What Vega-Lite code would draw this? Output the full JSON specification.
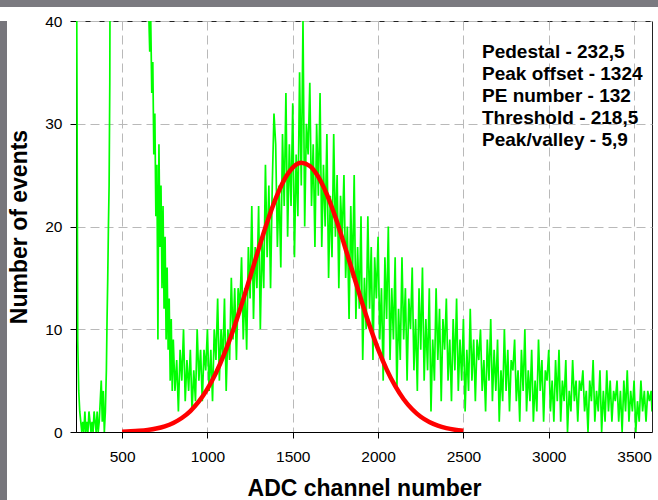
{
  "$schema": "https://vega.github.io/schema/vega-lite/v6.json",
  "padding": 0,
  "background": "white",
  "spacing": 6,
  "config": {
    "font": "Liberation Sans",
    "view": {"stroke": "#222222", "strokeWidth": 1},
    "axis": {
      "domainColor": "#000000",
      "tickColor": "#000000",
      "labelColor": "#000000",
      "titleColor": "#000000",
      "labelFont": "Liberation Sans",
      "titleFont": "Liberation Sans",
      "labelFontSize": 15.5,
      "titleFontSize": 23,
      "titleFontWeight": "bold",
      "gridColor": "#b9b9b9",
      "gridDash": [9, 5],
      "gridWidth": 1,
      "tickSize": 6
    }
  },
  "datasets": {
    "none": [],
    "spec": [
      {"x":230,"y":60},{"x":236,"y":33},{"x":240,"y":9},{"x":246,"y":4},{"x":252,"y":2},{"x":258,"y":1},{"x":264,"y":0},{"x":270,"y":1},{"x":276,"y":0},{"x":282,"y":2},{"x":288,"y":0},{"x":294,"y":1},{"x":300,"y":0},{"x":306,"y":2},{"x":312,"y":1},{"x":318,"y":0},{"x":324,"y":1},{"x":330,"y":0},{"x":336,"y":2},{"x":342,"y":1},{"x":348,"y":0},{"x":354,"y":2},{"x":360,"y":0},{"x":366,"y":1},{"x":372,"y":3},{"x":378,"y":5},{"x":384,"y":1},{"x":390,"y":4},{"x":396,"y":0},{"x":402,"y":2},{"x":408,"y":6},{"x":412,"y":11},{"x":416,"y":15},{"x":420,"y":20},{"x":424,"y":24},{"x":428,"y":34},{"x":432,"y":60},{"x":540,"y":60},{"x":650,"y":60},
      {"x":656,"y":41},{"x":662,"y":37},{"x":668,"y":40},{"x":674,"y":33},{"x":680,"y":36},{"x":686,"y":27},{"x":692,"y":31},{"x":698,"y":21},{"x":704,"y":26},{"x":710,"y":9},{"x":716,"y":28},{"x":722,"y":18},{"x":728,"y":24},{"x":734,"y":14},{"x":740,"y":22},{"x":746,"y":12},{"x":752,"y":19},{"x":758,"y":9},{"x":764,"y":16},{"x":770,"y":8},{"x":776,"y":13},{"x":782,"y":5},{"x":788,"y":11},{"x":794,"y":4},
      {"x":800,"y":9},{"x":810,"y":4},{"x":820,"y":7},{"x":830,"y":2},{"x":840,"y":8},{"x":850,"y":5},{"x":860,"y":10},{"x":870,"y":3},{"x":880,"y":7},{"x":890,"y":4},
      {"x":900,"y":8},{"x":910,"y":2},{"x":920,"y":6},{"x":930,"y":3},{"x":940,"y":10},{"x":950,"y":5},{"x":960,"y":8},{"x":970,"y":3},{"x":980,"y":8},{"x":990,"y":6},
      {"x":1000,"y":10},{"x":1010,"y":4},{"x":1020,"y":8},{"x":1030,"y":3},{"x":1040,"y":10},{"x":1050,"y":7},{"x":1060,"y":13},{"x":1070,"y":5},{"x":1080,"y":10},{"x":1090,"y":7},
      {"x":1100,"y":13},{"x":1110,"y":4},{"x":1120,"y":10},{"x":1130,"y":7},{"x":1140,"y":15},{"x":1150,"y":9},{"x":1160,"y":14},{"x":1170,"y":7},{"x":1180,"y":14},{"x":1190,"y":12},
      {"x":1200,"y":17},{"x":1210,"y":9},{"x":1220,"y":14},{"x":1230,"y":8},{"x":1240,"y":18},{"x":1250,"y":13},{"x":1260,"y":22},{"x":1270,"y":11},{"x":1280,"y":18},{"x":1290,"y":14},
      {"x":1300,"y":22},{"x":1310,"y":10},{"x":1320,"y":19},{"x":1330,"y":14},{"x":1340,"y":26},{"x":1350,"y":17},{"x":1360,"y":24},{"x":1370,"y":14},{"x":1380,"y":24},{"x":1390,"y":31},
      {"x":1400,"y":28},{"x":1410,"y":18},{"x":1420,"y":24},{"x":1430,"y":16},{"x":1440,"y":29},{"x":1450,"y":22},{"x":1460,"y":33},{"x":1470,"y":19},{"x":1480,"y":28},{"x":1490,"y":22},
      {"x":1500,"y":32},{"x":1510,"y":17},{"x":1520,"y":27},{"x":1530,"y":21},{"x":1540,"y":35},{"x":1550,"y":24},{"x":1560,"y":40},{"x":1570,"y":20},{"x":1580,"y":30},{"x":1590,"y":27},
      {"x":1600,"y":34},{"x":1610,"y":22},{"x":1620,"y":28},{"x":1630,"y":18},{"x":1640,"y":30},{"x":1650,"y":23},{"x":1660,"y":33},{"x":1670,"y":18},{"x":1680,"y":26},{"x":1690,"y":20},
      {"x":1700,"y":29},{"x":1710,"y":15},{"x":1720,"y":23},{"x":1730,"y":17},{"x":1740,"y":29},{"x":1750,"y":19},{"x":1760,"y":25},{"x":1770,"y":14},{"x":1780,"y":23},{"x":1790,"y":19},
      {"x":1800,"y":25},{"x":1810,"y":15},{"x":1820,"y":20},{"x":1830,"y":11},{"x":1840,"y":22},{"x":1850,"y":15},{"x":1860,"y":25},{"x":1870,"y":11},{"x":1880,"y":18},{"x":1890,"y":12},
      {"x":1900,"y":21},{"x":1910,"y":7},{"x":1920,"y":15},{"x":1930,"y":10},{"x":1940,"y":21},{"x":1950,"y":12},{"x":1960,"y":18},{"x":1970,"y":7},{"x":1980,"y":17},{"x":1990,"y":13},
      {"x":2000,"y":19},{"x":2010,"y":9},{"x":2020,"y":14},{"x":2030,"y":5},{"x":2040,"y":17},{"x":2050,"y":11},{"x":2060,"y":20},{"x":2070,"y":7},{"x":2080,"y":14},{"x":2090,"y":9},
      {"x":2100,"y":17},{"x":2110,"y":4},{"x":2120,"y":12},{"x":2130,"y":7},{"x":2140,"y":17},{"x":2150,"y":9},{"x":2160,"y":14},{"x":2170,"y":5},{"x":2180,"y":13},{"x":2190,"y":10},
      {"x":2200,"y":16},{"x":2210,"y":6},{"x":2220,"y":11},{"x":2230,"y":4},{"x":2240,"y":14},{"x":2250,"y":8},{"x":2260,"y":16},{"x":2270,"y":5},{"x":2280,"y":11},{"x":2290,"y":6},
      {"x":2300,"y":14},{"x":2310,"y":2},{"x":2320,"y":9},{"x":2330,"y":5},{"x":2340,"y":14},{"x":2350,"y":7},{"x":2360,"y":12},{"x":2370,"y":3},{"x":2380,"y":11},{"x":2390,"y":8},
      {"x":2400,"y":13},{"x":2410,"y":5},{"x":2420,"y":9},{"x":2430,"y":3},{"x":2440,"y":11},{"x":2450,"y":6},{"x":2460,"y":13},{"x":2470,"y":4},{"x":2480,"y":9},{"x":2490,"y":5},
      {"x":2500,"y":11},{"x":2510,"y":2},{"x":2520,"y":8},{"x":2530,"y":4},{"x":2540,"y":12},{"x":2550,"y":5},{"x":2560,"y":9},{"x":2570,"y":3},{"x":2580,"y":9},{"x":2590,"y":7},
      {"x":2600,"y":10},{"x":2610,"y":4},{"x":2620,"y":7},{"x":2630,"y":2},{"x":2640,"y":9},{"x":2650,"y":5},{"x":2660,"y":11},{"x":2670,"y":3},{"x":2680,"y":8},{"x":2690,"y":4},
      {"x":2700,"y":9},{"x":2710,"y":1},{"x":2720,"y":6},{"x":2730,"y":3},{"x":2740,"y":10},{"x":2750,"y":4},{"x":2760,"y":8},{"x":2770,"y":2},{"x":2780,"y":7},{"x":2790,"y":6},
      {"x":2800,"y":9},{"x":2810,"y":3},{"x":2820,"y":6},{"x":2830,"y":1},{"x":2840,"y":8},{"x":2850,"y":4},{"x":2860,"y":10},{"x":2870,"y":2},{"x":2880,"y":6},{"x":2890,"y":3},
      {"x":2900,"y":8},{"x":2910,"y":1},{"x":2920,"y":5},{"x":2930,"y":2},{"x":2940,"y":9},{"x":2950,"y":4},{"x":2960,"y":7},{"x":2970,"y":1},{"x":2980,"y":6},{"x":2990,"y":5},
      {"x":3000,"y":8},{"x":3010,"y":2},{"x":3020,"y":5},{"x":3030,"y":1},{"x":3040,"y":7},{"x":3050,"y":3},{"x":3060,"y":8},{"x":3070,"y":1},{"x":3080,"y":5},{"x":3090,"y":3},
      {"x":3100,"y":7},{"x":3110,"y":0},{"x":3120,"y":4},{"x":3130,"y":2},{"x":3140,"y":7},{"x":3150,"y":3},{"x":3160,"y":5},{"x":3170,"y":1},{"x":3180,"y":5},{"x":3190,"y":4},
      {"x":3200,"y":6},{"x":3210,"y":2},{"x":3220,"y":4},{"x":3230,"y":0},{"x":3240,"y":5},{"x":3250,"y":3},{"x":3260,"y":7},{"x":3270,"y":1},{"x":3280,"y":4},{"x":3290,"y":2},
      {"x":3300,"y":6},{"x":3310,"y":0},{"x":3320,"y":4},{"x":3330,"y":1},{"x":3340,"y":6},{"x":3350,"y":2},{"x":3360,"y":5},{"x":3370,"y":1},{"x":3380,"y":4},{"x":3390,"y":3},
      {"x":3400,"y":5},{"x":3410,"y":1},{"x":3420,"y":4},{"x":3430,"y":0},{"x":3440,"y":5},{"x":3450,"y":2},{"x":3460,"y":6},{"x":3470,"y":1},{"x":3480,"y":4},{"x":3490,"y":2},
      {"x":3500,"y":5},{"x":3510,"y":0},{"x":3520,"y":3},{"x":3530,"y":1},{"x":3540,"y":5},{"x":3550,"y":2},{"x":3560,"y":4},{"x":3570,"y":1},{"x":3580,"y":4},{"x":3590,"y":3},{"x":3600,"y":4},{"x":3605,"y":2}
    ],
    "fit": [
      {"x":500,"y":0.035},{"x":550,"y":0.065},{"x":600,"y":0.116},{"x":650,"y":0.2},{"x":700,"y":0.34},{"x":750,"y":0.556},{"x":800,"y":0.884},{"x":850,"y":1.365},{"x":900,"y":2.04},{"x":950,"y":2.97},
      {"x":1000,"y":4.2},{"x":1050,"y":5.75},{"x":1100,"y":7.65},{"x":1150,"y":9.88},{"x":1200,"y":12.38},{"x":1250,"y":15.07},{"x":1300,"y":17.8},{"x":1350,"y":20.41},{"x":1400,"y":22.71},{"x":1450,"y":24.54},
      {"x":1500,"y":25.73},{"x":1550,"y":26.2},{"x":1600,"y":25.89},{"x":1650,"y":24.83},{"x":1700,"y":23.12},{"x":1750,"y":20.9},{"x":1800,"y":18.34},{"x":1850,"y":15.62},{"x":1900,"y":12.91},{"x":1950,"y":10.36},
      {"x":2000,"y":8.07},{"x":2050,"y":6.1},{"x":2100,"y":4.48},{"x":2150,"y":3.19},{"x":2200,"y":2.21},{"x":2250,"y":1.48},{"x":2300,"y":0.97},{"x":2350,"y":0.61},{"x":2400,"y":0.375},{"x":2450,"y":0.224},{"x":2500,"y":0.13}
    ],
    "notes": [
      {"label": "Pedestal - 232,5\nPeak offset - 1324\nPE number - 132\nThreshold - 218,5\nPeak/valley - 5,9"}
    ]
  },
  "vconcat": [
    {
      "width": 658,
      "height": 7,
      "view": {"fill": "#7b7a80", "stroke": null},
      "data": {"name": "none"},
      "mark": {"type": "rule"},
      "encoding": {}
    },
    {
      "spacing": 1,
      "hconcat": [
        {
          "width": 7,
          "height": 479,
          "view": {"fill": "#77767c", "stroke": null},
          "data": {"name": "none"},
          "mark": {"type": "rule"},
          "encoding": {}
        },
        {
          "width": 576,
          "height": 411,
          "layer": [
            {
              "data": {"name": "spec"},
              "mark": {"type": "line", "color": "#00ff00", "strokeWidth": 1.7, "interpolate": "linear", "clip": true},
              "encoding": {
                "x": {
                  "field": "x", "type": "quantitative",
                  "scale": {"domain": [230, 3605], "nice": false, "zero": false},
                  "axis": {"values": [500, 1000, 1500, 2000, 2500, 3000, 3500], "grid": true, "labelPadding": 11, "titlePadding": 13, "title": "ADC channel number", "format": "d"}
                },
                "y": {
                  "field": "y", "type": "quantitative",
                  "scale": {"domain": [0, 40], "nice": false},
                  "axis": {"values": [0, 10, 20, 30, 40], "grid": true, "labelPadding": 8, "titlePadding": 13, "title": "Number of events"}
                }
              }
            },
            {
              "data": {"name": "fit"},
              "mark": {"type": "line", "color": "#ff0000", "strokeWidth": 4.5, "interpolate": "monotone", "clip": true},
              "encoding": {
                "x": {"field": "x", "type": "quantitative"},
                "y": {"field": "y", "type": "quantitative"}
              }
            },
            {
              "data": {"name": "notes"},
              "mark": {"type": "text", "align": "left", "baseline": "alphabetic", "fontSize": 19, "fontWeight": "bold", "font": "Liberation Sans", "lineBreak": "\n", "lineHeight": 22, "color": "#000000"},
              "encoding": {
                "x": {"datum": 2609, "type": "quantitative"},
                "y": {"datum": 36.4, "type": "quantitative"},
                "text": {"field": "label"}
              }
            }
          ]
        }
      ]
    }
  ]
}
